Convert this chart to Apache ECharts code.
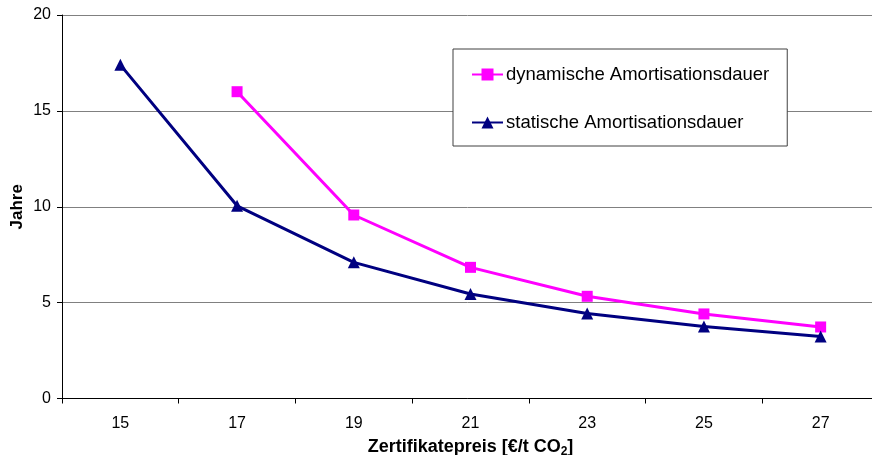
<!DOCTYPE html>
<html>
<head>
<meta charset="utf-8">
<script src="https://cdn.jsdelivr.net/npm/echarts@6/dist/echarts.min.js"></script>
<style>
  html, body { margin: 0; padding: 0; background: #fff; }
  #chart { width: 872px; height: 455px; }
</style>
</head>
<body>
<div id="chart"></div>
<script>
// Zertifikatepreis in €/t CO2
const categories = ['15', '17', '19', '21', '23', '25', '27'];
// Amortisationsdauer in Jahren
const dynamischeDauer = [null, 16.0, 9.57, 6.84, 5.33, 4.41, 3.73];
const statischeDauer = [17.4, 10.05, 7.1, 5.45, 4.43, 3.76, 3.23];
const yTicks = { min: 0, max: 20, interval: 5 };

const FONT = 'Arial, "Liberation Sans", sans-serif';

const chart = echarts.init(document.getElementById('chart'), null, { renderer: 'canvas' });
chart.setOption({
  animation: false,
  backgroundColor: '#ffffff',
  // the plot area runs a little past the right edge of the canvas
  grid: { left: 62, width: 817, top: 15, bottom: 56.5, containLabel: false, outerBoundsMode: 'none' },
  legend: {
    orient: 'vertical',
    left: 453,
    top: 49,
    padding: [16, 18, 14, 18],
    itemGap: 29,
    itemWidth: 31,
    itemHeight: 15,
    backgroundColor: '#ffffff',
    borderColor: '#404040',
    borderWidth: 1,
    textStyle: { fontFamily: FONT, fontSize: 18.5, color: '#000', lineHeight: 18, padding: [0, 0, 0, -2] },
    data: ['dynamische Amortisationsdauer', 'statische Amortisationsdauer']
  },
  xAxis: {
    type: 'category',
    data: categories,
    boundaryGap: true,
    axisLine: { lineStyle: { color: '#000', width: 1 } },
    axisTick: { show: true, length: 5, lineStyle: { color: '#000' } },
    axisLabel: { fontFamily: FONT, fontSize: 16, color: '#000', margin: 17 },
    name: '{a|Zertifikatepreis [€/t CO}{s|2}{a|]}',
    nameLocation: 'middle',
    nameGap: 38,
    nameMoveOverlap: false,
    nameTextStyle: {
      rich: {
        a: { fontFamily: FONT, fontSize: 18, fontWeight: 'bold', color: '#000' },
        s: { fontFamily: FONT, fontSize: 12, fontWeight: 'bold', color: '#000', verticalAlign: 'bottom', padding: [9, 0, 0, 0] }
      }
    }
  },
  yAxis: {
    type: 'value',
    min: yTicks.min,
    max: yTicks.max,
    interval: yTicks.interval,
    axisLine: { show: true, lineStyle: { color: '#000', width: 1 } },
    axisTick: { show: true, length: 5, lineStyle: { color: '#000' } },
    axisLabel: { fontFamily: FONT, fontSize: 16, color: '#000', margin: 11 },
    splitLine: { show: true, lineStyle: { color: '#808080', width: 1 } },
    name: 'Jahre',
    nameLocation: 'middle',
    nameRotate: 90,
    nameGap: 36,
    nameMoveOverlap: false,
    nameTextStyle: { fontFamily: FONT, fontSize: 17, fontWeight: 'bold', color: '#000' }
  },
  series: [
    {
      name: 'dynamische Amortisationsdauer',
      type: 'line',
      data: dynamischeDauer,
      color: '#ff00ff',
      lineStyle: { width: 3, color: '#ff00ff' },
      symbol: 'rect',
      symbolSize: 11,
      itemStyle: { color: '#ff00ff' },
      connectNulls: false
    },
    {
      name: 'statische Amortisationsdauer',
      type: 'line',
      data: statischeDauer,
      color: '#000080',
      lineStyle: { width: 3, color: '#000080' },
      symbol: 'triangle',
      symbolSize: 12,
      itemStyle: { color: '#000080' }
    }
  ]
});
</script>
</body>
</html>
